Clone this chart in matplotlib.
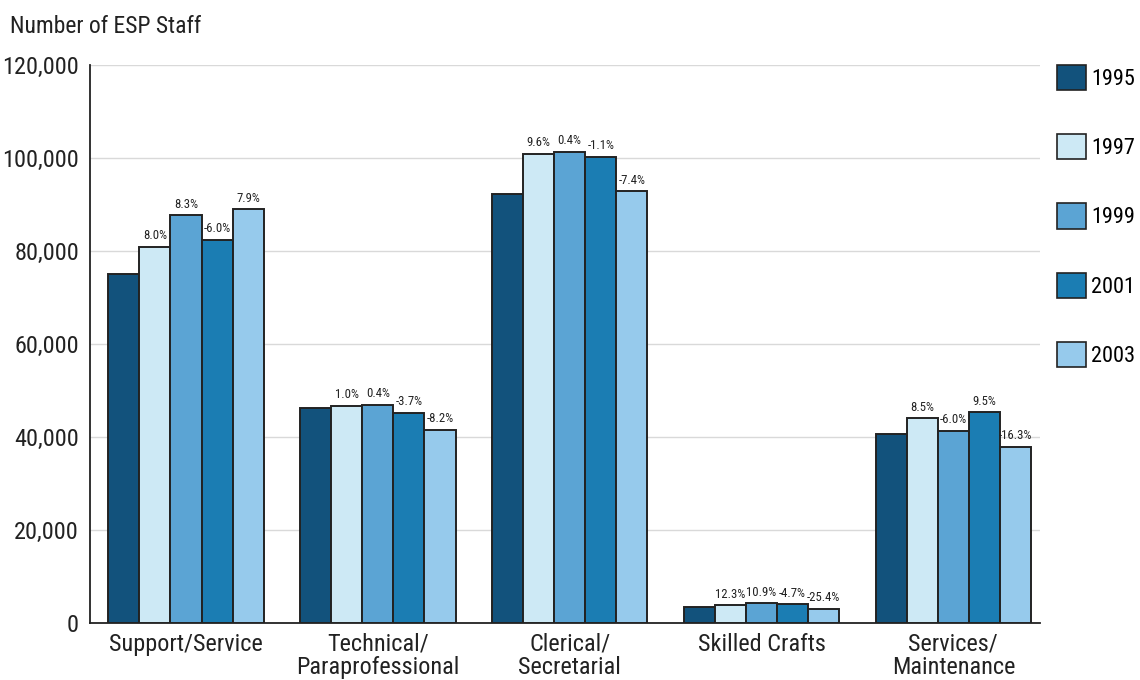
import numpy as np
import matplotlib
matplotlib.use("Agg")
from matplotlib import pyplot as plt
from matplotlib.patches import Patch
from matplotlib import font_manager as fm

# narrow face if there is one, else a plain sans with smaller size
names = set(f.name for f in fm.fontManager.ttflist)
narrow = None
for n in ["Liberation Sans Narrow", "Roboto Condensed", "Open Sans Condensed", "Noto Sans Condensed"]:
    if n in names:
        narrow = n
        break
if narrow:
    plt.rcParams['font.family'] = [narrow, 'DejaVu Sans']
    k = 1.0
else:
    plt.rcParams['font.family'] = ['Liberation Sans', 'DejaVu Sans']
    k = 0.85

categories = ["Support/Service", "Technical/\nParaprofessional", "Clerical/\nSecretarial",
              "Skilled Crafts", "Services/\nMaintenance"]
years = ["1995", "1997", "1999", "2001", "2003"]

staff = {
    "1995": [75000, 46200, 92200, 3400, 40600],
    "1997": [81000, 46700, 101000, 3800, 44000],
    "1999": [87700, 46900, 101400, 4200, 41400],
    "2001": [82500, 45200, 100300, 4000, 45300],
    "2003": [89000, 41500, 92900, 3000, 37900],
}

pct_change = {
    "1997": ["8.0%", "1.0%", "9.6%", "12.3%", "8.5%"],
    "1999": ["8.3%", "0.4%", "0.4%", "10.9%", "-6.0%"],
    "2001": ["-6.0%", "-3.7%", "-1.1%", "-4.7%", "9.5%"],
    "2003": ["7.9%", "-8.2%", "-7.4%", "-25.4%", "-16.3%"],
}

colors = ["#12527c", "#cde9f5", "#5ba4d4", "#1b7db3", "#96caec"]

fig = plt.figure(figsize=(11.4, 6.8), dpi=100)
ax = fig.add_axes([0.079, 0.084, 0.833, 0.82])

x = np.arange(len(categories))
w = 0.162
for i, yr in enumerate(years):
    pos = x + (i - 2) * w
    ax.bar(pos, staff[yr], width=w, color=colors[i], edgecolor="#222222",
           linewidth=1.4, zorder=3)
    if yr in pct_change:
        for p, v, s in zip(pos, staff[yr], pct_change[yr]):
            ax.text(p, v + 1000, s, ha="center", va="bottom", fontsize=9.2 * k,
                    color="#222222", zorder=4)

ax.set_xlim(-0.5, 4.45)
ax.set_ylim(0, 120000)
ax.set_yticks(np.arange(0, 120001, 20000))
ax.set_yticklabels([f"{v:,}" for v in range(0, 120001, 20000)], fontsize=17.5 * k, color="#222222")
ax.set_xticks(x)
ax.set_xticklabels(categories, fontsize=17.5 * k, color="#222222", linespacing=1.0)
ax.tick_params(axis="both", length=0, pad=8)
ax.tick_params(axis="x", pad=7)
ax.grid(axis="y", color="#d9d9d9", linewidth=1.0, zorder=0)
for s in ["top", "right"]:
    ax.spines[s].set_visible(False)
ax.spines["left"].set_color("#222222")
ax.spines["bottom"].set_color("#222222")
ax.spines["left"].set_linewidth(1.3)
ax.spines["bottom"].set_linewidth(1.3)

fig.text(0.009, 0.952, "Number of ESP Staff", fontsize=17 * k, color="#222222")

handles = [Patch(facecolor=c, edgecolor="#222222", linewidth=1.2) for c in colors]
fig.legend(handles, years, loc="upper left", bbox_to_anchor=(0.927, 0.905),
           frameon=False, fontsize=16 * k, handlelength=1.3 / k, handleheight=1.38 / k,
           labelspacing=1.98 / k, handletextpad=0.25, borderaxespad=0, borderpad=0)

plt.savefig("out.png", dpi=100)
